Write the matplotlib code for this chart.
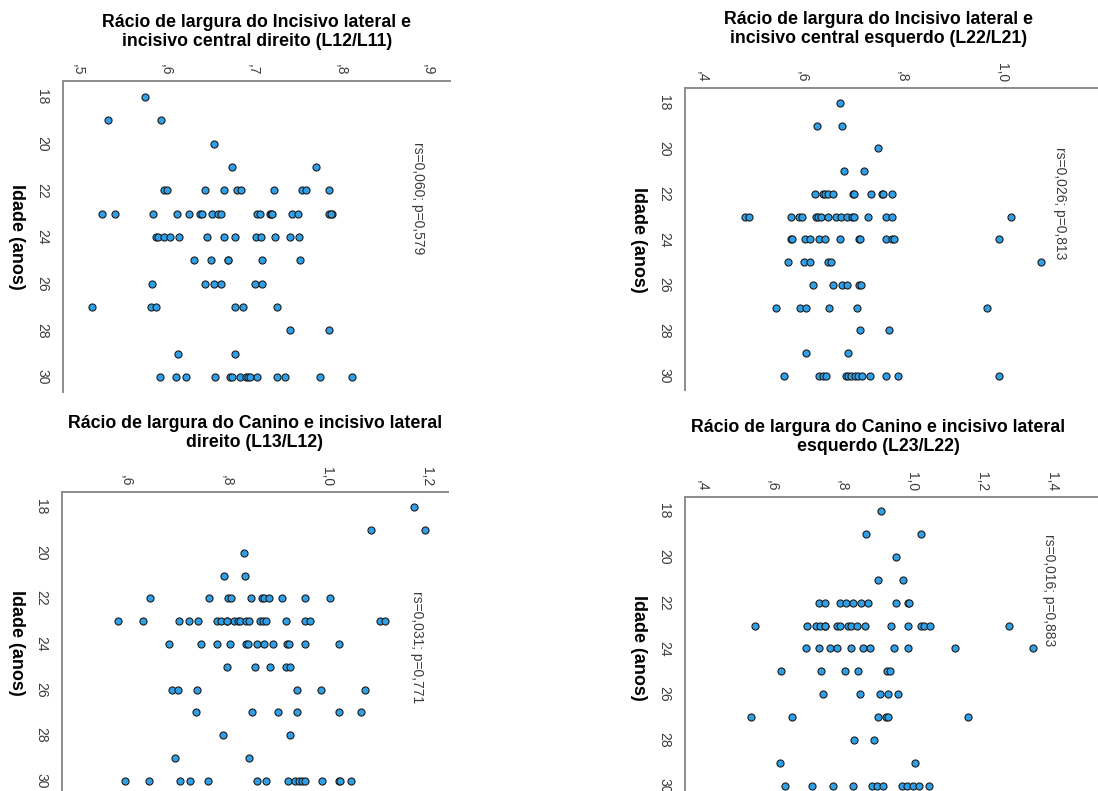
import matplotlib
matplotlib.use("Agg")
import matplotlib.pyplot as plt

plt.rcParams['font.family'] = ['Liberation Sans', 'DejaVu Sans']

# ---------------- data (age, ratio) ----------------
p1_age = [18, 19, 19, 20, 21, 21,
          22, 22, 22, 22, 22, 22, 22, 22, 22, 22,
          23, 23, 23, 23, 23, 23, 23, 23, 23, 23, 23, 23, 23, 23, 23, 23, 23, 23, 23, 23,
          24, 24, 24, 24, 24, 24, 24, 24, 24, 24, 24, 24, 24,
          25, 25, 25, 25, 25, 25,
          26, 26, 26, 26, 26, 26,
          27, 27, 27, 27, 27, 27,
          28, 28, 29, 29,
          30, 30, 30, 30, 30, 30, 30, 30, 30, 30, 30, 30, 30, 30, 30]
p1_val = [0.577, 0.534, 0.595, 0.655, 0.676, 0.772,
          0.598, 0.602, 0.645, 0.667, 0.682, 0.686, 0.724, 0.756, 0.760, 0.787,
          0.528, 0.542, 0.586, 0.613, 0.627, 0.639, 0.642, 0.653, 0.660, 0.664, 0.704, 0.708,
          0.719, 0.721, 0.722, 0.745, 0.751, 0.787, 0.790, 0.789,
          0.589, 0.592, 0.598, 0.605, 0.615, 0.647, 0.667, 0.679, 0.703, 0.709, 0.725, 0.742, 0.752,
          0.633, 0.652, 0.671, 0.672, 0.710, 0.754,
          0.585, 0.645, 0.656, 0.664, 0.702, 0.710,
          0.516, 0.583, 0.589, 0.679, 0.689, 0.727,
          0.742, 0.787, 0.614, 0.679,
          0.594, 0.612, 0.623, 0.657, 0.674, 0.676, 0.685, 0.692, 0.694, 0.697, 0.705,
          0.727, 0.736, 0.777, 0.813]

p2_age = [18, 19, 19, 20, 21, 21,
          22, 22, 22, 22, 22, 22, 22, 22, 22, 22, 22,
          23, 23, 23, 23, 23, 23, 23, 23, 23, 23, 23, 23, 23, 23, 23, 23, 23, 23,
          24, 24, 24, 24, 24, 24, 24, 24, 24, 24, 24, 24, 24,
          25, 25, 25, 25, 25, 25,
          26, 26, 26, 26, 26, 26,
          27, 27, 27, 27, 27, 27,
          28, 28, 29, 29,
          30, 30, 30, 30, 30, 30, 30, 30, 30, 30, 30, 30, 30, 30]
p2_val = [0.676, 0.629, 0.680, 0.752, 0.683, 0.723,
          0.625, 0.641, 0.646, 0.651, 0.661, 0.702, 0.704, 0.737, 0.760, 0.762, 0.780,
          0.486, 0.493, 0.577, 0.593, 0.600, 0.627, 0.631, 0.637, 0.651, 0.667, 0.678, 0.689,
          0.699, 0.703, 0.731, 0.768, 0.779, 1.017,
          0.578, 0.579, 0.605, 0.615, 0.633, 0.645, 0.676, 0.713, 0.715, 0.767, 0.779, 0.783, 0.993,
          0.571, 0.603, 0.615, 0.652, 0.657, 1.077,
          0.622, 0.661, 0.679, 0.690, 0.713, 0.717,
          0.547, 0.595, 0.608, 0.653, 0.710, 0.969,
          0.715, 0.773, 0.608, 0.692,
          0.563, 0.634, 0.641, 0.647, 0.687, 0.692, 0.697, 0.705, 0.711, 0.719, 0.735,
          0.767, 0.792, 0.993]

p3_age = [18, 19, 19, 20, 21, 21,
          22, 22, 22, 22, 22, 22, 22, 22, 22, 22, 22,
          23, 23, 23, 23, 23, 23, 23, 23, 23, 23, 23, 23, 23, 23, 23, 23, 23, 23, 23, 23, 23, 23,
          24, 24, 24, 24, 24, 24, 24, 24, 24, 24, 24, 24, 24,
          25, 25, 25, 25, 25,
          26, 26, 26, 26, 26, 26,
          27, 27, 27, 27, 27, 27,
          28, 28, 29, 29,
          30, 30, 30, 30, 30, 30, 30, 30, 30, 30, 30, 30, 30, 30, 30, 30]
p3_val = [1.175, 1.089, 1.197, 0.835, 0.796, 0.838,
          0.648, 0.766, 0.804, 0.810, 0.850, 0.871, 0.874, 0.885, 0.911, 0.956, 1.007,
          0.583, 0.634, 0.705, 0.725, 0.743, 0.782, 0.789, 0.801, 0.816, 0.823, 0.828, 0.839,
          0.846, 0.867, 0.872, 0.878, 0.918, 0.956, 0.967, 1.106, 1.117, 0.801,
          0.686, 0.750, 0.782, 0.808, 0.840, 0.844, 0.861, 0.875, 0.892, 0.921, 0.924, 0.956, 1.025,
          0.802, 0.857, 0.886, 0.919, 0.927,
          0.691, 0.703, 0.741, 0.940, 0.988, 1.076,
          0.739, 0.852, 0.903, 0.940, 1.025, 1.068,
          0.793, 0.927, 0.698, 0.846,
          0.598, 0.646, 0.708, 0.728, 0.763, 0.861, 0.878, 0.923, 0.936, 0.945, 0.951, 0.957,
          0.990, 1.024, 1.027, 1.049]

p4_age = [18, 19, 19, 20, 21, 21,
          22, 22, 22, 22, 22, 22, 22, 22, 22, 22,
          23, 23, 23, 23, 23, 23, 23, 23, 23, 23, 23, 23, 23, 23, 23, 23, 23, 23,
          24, 24, 24, 24, 24, 24, 24, 24, 24, 24, 24,
          25, 25, 25, 25, 25, 25,
          26, 26, 26, 26, 26,
          27, 27, 27, 27, 27, 27,
          28, 28, 29, 29,
          30, 30, 30, 30, 30, 30, 30, 30, 30, 30, 30, 30]
p4_val = [0.910, 0.869, 1.026, 0.954, 0.903, 0.974,
          0.734, 0.750, 0.795, 0.810, 0.831, 0.854, 0.874, 0.954, 0.988, 0.991,
          0.550, 0.700, 0.724, 0.738, 0.750, 0.784, 0.795, 0.817, 0.826, 0.843, 0.866, 0.939,
          0.989, 1.024, 1.035, 1.050, 1.276, 0.750,
          0.696, 0.734, 0.765, 0.784, 0.824, 0.860, 0.879, 0.949, 0.987, 1.121, 1.345,
          0.626, 0.740, 0.808, 0.845, 0.929, 0.936,
          0.744, 0.850, 0.907, 0.932, 0.959,
          0.540, 0.658, 0.903, 0.926, 0.932, 1.160,
          0.833, 0.892, 0.622, 1.009,
          0.638, 0.714, 0.774, 0.830, 0.884, 0.900, 0.917, 0.970, 0.986, 1.002, 1.018, 1.048]

titles = ["Rácio de largura do Incisivo lateral e\nincisivo central direito (L12/L11)",
          "Rácio de largura do Incisivo lateral e\nincisivo central esquerdo (L22/L21)",
          "Rácio de largura do Canino e incisivo lateral\ndireito (L13/L12)",
          "Rácio de largura do Canino e incisivo lateral\nesquerdo (L23/L22)"]
stats_text = ["rs=0,060; p=0,579", "rs=0,026; p=0,813", "rs=0,031; p=0,771", "rs=0,016; p=0,883"]

x_ticks = [[0.5, 0.6, 0.7, 0.8, 0.9],
           [0.4, 0.6, 0.8, 1.0],
           [0.6, 0.8, 1.0, 1.2],
           [0.4, 0.6, 0.8, 1.0, 1.2, 1.4]]
x_ticklabels = [[",5", ",6", ",7", ",8", ",9"],
                [",4", ",6", ",8", "1,0"],
                [",6", ",8", "1,0", "1,2"],
                [",4", ",6", ",8", "1,0", "1,2", "1,4"]]
y_ticks = [18, 20, 22, 24, 26, 28, 30]
y_label = "Idade (anos)"

# ---------------- layout (pixels) ----------------
W, H = 1098, 791
fig = plt.figure(figsize=(W / 100, H / 100), dpi=100)

# left, right, top, bottom in pixels; xlim; ylim(bottom, top)
panels = [
    dict(px=(63, 450, 81, 392), xlim=(0.483, 0.925), ylim=(30.64, 17.31),
         title_xy=(257, 32), ylab_xy=(16, 237), rs_xy=(418, 198)),
    dict(px=(685, 1110, 88, 390), xlim=(0.366, 1.216), ylim=(30.62, 17.34),
         title_xy=(879, 29), ylab_xy=(639, 240), rs_xy=(1060, 203)),
    dict(px=(62, 448, 492, 791), xlim=(0.472, 1.242), ylim=(30.44, 17.34),
         title_xy=(255, 433), ylab_xy=(16, 643), rs_xy=(417, 647)),
    dict(px=(685, 1110, 497, 791), xlim=(0.351, 1.565), ylim=(30.22, 17.39),
         title_xy=(878, 437), ylab_xy=(639, 648), rs_xy=(1049, 590)),
]
data = [(p1_age, p1_val), (p2_age, p2_val), (p3_age, p3_val), (p4_age, p4_val)]

spine_col = "#8c8c8c"
tick_col = "#3c3c3c"
for i, pn in enumerate(panels):
    l, r, t, b = pn["px"]
    ax = fig.add_axes([l / W, 1 - b / H, (r - l) / W, (b - t) / H])
    ages, vals = data[i]
    ax.scatter(vals, ages, s=26, facecolor="#2f9fe8", edgecolor="#1c1c1c",
               linewidths=0.8, zorder=3, clip_on=False)
    ax.set_xlim(*pn["xlim"])
    ax.set_ylim(*pn["ylim"])
    ax.xaxis.tick_top()
    ax.set_xticks(x_ticks[i])
    ax.set_xticklabels(x_ticklabels[i], rotation=270, fontsize=10, color=tick_col)
    ax.set_yticks(y_ticks)
    ax.set_yticklabels([str(v) for v in y_ticks], rotation=270, fontsize=10,
                       color=tick_col, va="center")
    ax.tick_params(axis="x", length=0, pad=4)
    ax.tick_params(axis="y", length=0, pad=10)
    for s in ("right", "bottom"):
        ax.spines[s].set_visible(False)
    for s in ("left", "top"):
        ax.spines[s].set_color(spine_col)
        ax.spines[s].set_linewidth(1.4)
    ax.set_facecolor("none")

    tx, ty = pn["title_xy"]
    fig.text(tx / W, 1 - ty / H, titles[i], ha="center", va="center",
             fontsize=12.8, fontweight="bold", linespacing=1.22, color="#000000")
    lx, ly = pn["ylab_xy"]
    fig.text(lx / W, 1 - ly / H, y_label, ha="center", va="center", rotation=270,
             fontsize=13, fontweight="bold", color="#000000")
    rx, ry = pn["rs_xy"]
    fig.text(rx / W, 1 - ry / H, stats_text[i], ha="center", va="center", rotation=270,
             fontsize=10, color=tick_col)

fig.savefig("out.png", dpi=100)
